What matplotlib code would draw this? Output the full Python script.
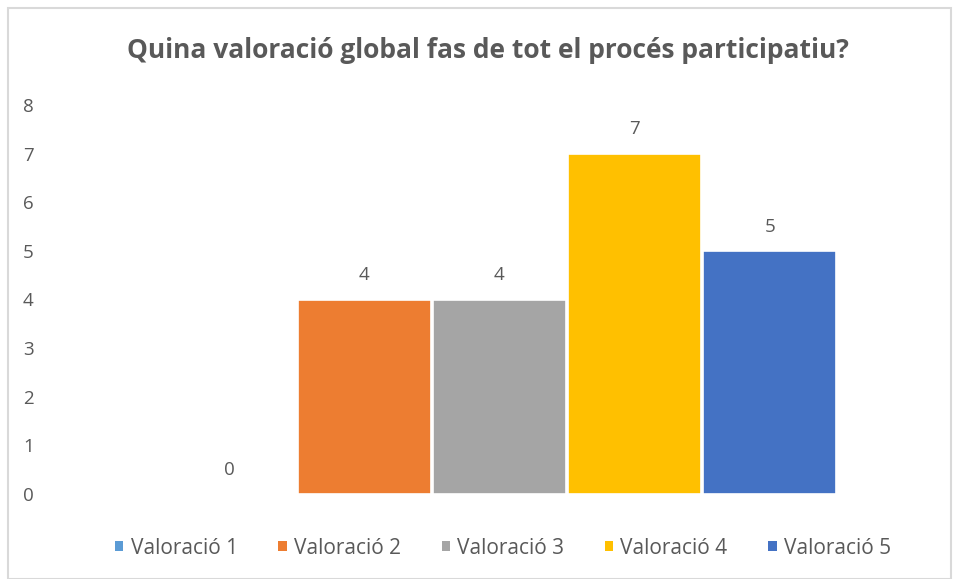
import matplotlib.pyplot as plt
from matplotlib.patches import Patch, Rectangle

plt.rcParams['font.family'] = ['Open Sans', 'DejaVu Sans']

# data
categories = ['Valoració 1', 'Valoració 2', 'Valoració 3', 'Valoració 4', 'Valoració 5']
values = [0, 4, 4, 7, 5]
colors = ['#5B9BD5', '#ED7D31', '#A5A5A5', '#FFC000', '#4472C4']
title = 'Quina valoració global fas de tot el procés participatiu?'
text_color = '#595959'

W, H = 958, 579
fig = plt.figure(figsize=(W / 100, H / 100), dpi=100)

# chart border
fig.patches.append(Rectangle((8 / W, 0), 943 / W, 1 - 8 / H, transform=fig.transFigure,
                             fill=False, edgecolor='#D9D9D9', linewidth=1.5))

ax = fig.add_axes([60 / W, 1 - 494 / H, 880 / W, (494 - 105) / H])
x = list(range(len(categories)))
bars = ax.bar(x, values, width=0.985, color=colors, edgecolor='white', linewidth=1.2)

for xi, v in zip(x, values):
    ax.annotate(str(v), (xi, v), xytext=(0, 11), textcoords='offset points',
                ha='center', va='bottom', fontsize=13.5, color=text_color)

ax.set_xlim(-1.25, 5.26)
ax.set_ylim(0, 8)
ax.set_yticks(range(0, 9))
ax.set_xticks([])
ax.tick_params(axis='y', length=0, labelsize=13.5, labelcolor=text_color, pad=19)
for s in ax.spines.values():
    s.set_visible(False)

fig.text(488 / W, 1 - 51 / H, title, ha='center', va='center', fontsize=19,
         fontweight='bold', color=text_color)

handles = [Patch(facecolor=c) for c in colors]
fig.legend(handles, categories, loc='center', bbox_to_anchor=(503 / W, 1 - 548 / H),
           ncol=5, frameon=False, fontsize=15, handlelength=0.4, handleheight=0.4,
           handletextpad=0.35, columnspacing=1.95, labelcolor=text_color)

fig.savefig('out.png', dpi=100)
